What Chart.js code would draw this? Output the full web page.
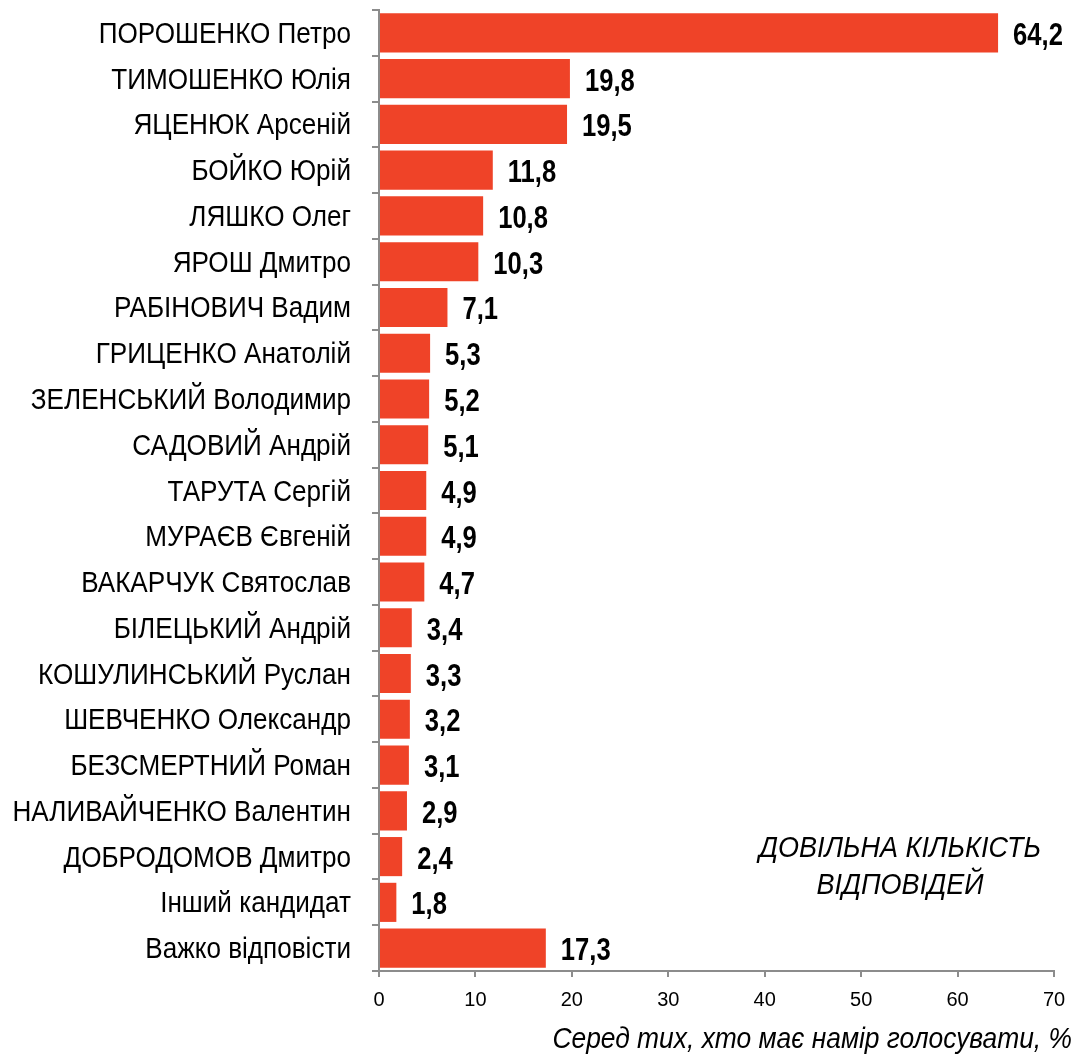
<!DOCTYPE html>
<html>
<head>
<meta charset="utf-8">
<script src="https://cdn.jsdelivr.net/npm/chart.js@4/dist/chart.umd.min.js"></script>
<style>
  html, body { margin: 0; padding: 0; background: #fff; }
  #wrap { width: 1077px; height: 1055px; position: relative; }
</style>
</head>
<body>
<div id="wrap"><canvas id="chart"></canvas></div>
<script>
const candidates = [
  'ПОРОШЕНКО Петро', 'ТИМОШЕНКО Юлія', 'ЯЦЕНЮК Арсеній', 'БОЙКО Юрій',
  'ЛЯШКО Олег', 'ЯРОШ Дмитро', 'РАБІНОВИЧ Вадим', 'ГРИЦЕНКО Анатолій',
  'ЗЕЛЕНСЬКИЙ Володимир', 'САДОВИЙ Андрій', 'ТАРУТА Сергій', 'МУРАЄВ Євгеній',
  'ВАКАРЧУК Святослав', 'БІЛЕЦЬКИЙ Андрій', 'КОШУЛИНСЬКИЙ Руслан',
  'ШЕВЧЕНКО Олександр', 'БЕЗСМЕРТНИЙ Роман', 'НАЛИВАЙЧЕНКО Валентин',
  'ДОБРОДОМОВ Дмитро', 'Інший кандидат', 'Важко відповісти'
];
const shares = [64.2, 19.8, 19.5, 11.8, 10.8, 10.3, 7.1, 5.3, 5.2, 5.1, 4.9,
  4.9, 4.7, 3.4, 3.3, 3.2, 3.1, 2.9, 2.4, 1.8, 17.3];
const xTicks = [0, 10, 20, 30, 40, 50, 60, 70];
const axisTitle = 'Серед тих, хто має намір голосувати, %';
const noteLines = ['ДОВІЛЬНА КІЛЬКІСТЬ', 'ВІДПОВІДЕЙ'];

const fontFam = "'Liberation Sans', Arial, sans-serif";

// текст зі стисненням по горизонталі (як Arial Narrow)
function narrowText(ctx, text, x, y, sx) {
  ctx.save();
  ctx.translate(x, y);
  ctx.scale(sx, 1);
  ctx.fillText(text, 0, 0);
  ctx.restore();
}

// підписи категорій, значень, примітка + назва осі
const labelsPlugin = {
  id: 'labelsPlugin',
  afterDatasetsDraw(chart) {
    const ctx = chart.ctx;
    const meta = chart.getDatasetMeta(0);
    const yScale = chart.scales.y;
    ctx.save();
    ctx.fillStyle = '#000';
    ctx.textBaseline = 'alphabetic';

    ctx.font = '29px ' + fontFam;
    ctx.textAlign = 'right';
    candidates.forEach((name, i) => {
      narrowText(ctx, name, 351, yScale.getPixelForValue(i) + 10, 0.9);
    });

    ctx.font = 'bold 32px ' + fontFam;
    ctx.textAlign = 'left';
    meta.data.forEach((bar, i) => {
      narrowText(ctx, shares[i].toFixed(1).replace('.', ','), bar.x + 15, bar.y + 12, 0.8);
    });

    ctx.font = 'italic 30px ' + fontFam;
    ctx.textAlign = 'center';
    narrowText(ctx, noteLines[0], 900, 857, 0.9);
    narrowText(ctx, noteLines[1], 900, 894, 0.9);

    ctx.textAlign = 'right';
    ctx.font = 'italic 29px ' + fontFam;
    narrowText(ctx, axisTitle, 1072, 1048, 0.91);
    ctx.restore();
  },
};

new Chart(document.getElementById('chart'), {
  type: 'bar',
  data: {
    labels: candidates,
    datasets: [
      {
        data: shares,
        backgroundColor: '#EF4328',
        borderWidth: 0,
        categoryPercentage: 0.855,
        barPercentage: 1,
      },
    ],
  },
  options: {
    indexAxis: 'y',
    responsive: true,
    maintainAspectRatio: false,
    animation: false,
    layout: { padding: { top: 10, right: 23, bottom: 0, left: 0 } },
    plugins: {
      legend: { display: false },
      tooltip: { enabled: false },
    },
    scales: {
      x: {
        min: 0,
        max: 70,
        afterBuildTicks: (scale) => {
          scale.ticks = xTicks.map((v) => ({ value: v }));
        },
        afterFit: (scale) => {
          scale.height = 84;
          scale.paddingLeft = 0;
          scale.paddingRight = 0;
        },
        border: { color: '#8c8c8c', width: 2 },
        grid: {
          drawOnChartArea: false,
          drawTicks: true,
          tickLength: 6,
          color: '#8c8c8c',
          lineWidth: 2,
        },
        ticks: {
          color: '#000',
          padding: 11,
          maxRotation: 0,
          font: { family: fontFam, size: 20 },
        },
      },
      y: {
        afterFit: (scale) => {
          scale.width = 379;
          scale.paddingTop = 0;
          scale.paddingBottom = 0;
        },
        border: { color: '#8c8c8c', width: 2 },
        grid: {
          drawOnChartArea: false,
          drawTicks: true,
          tickLength: 7,
          color: '#8c8c8c',
          lineWidth: 2,
        },
        ticks: {
          display: false,
          autoSkip: false,
        },
      },
    },
  },
  plugins: [labelsPlugin],
});
</script>
</body>
</html>
